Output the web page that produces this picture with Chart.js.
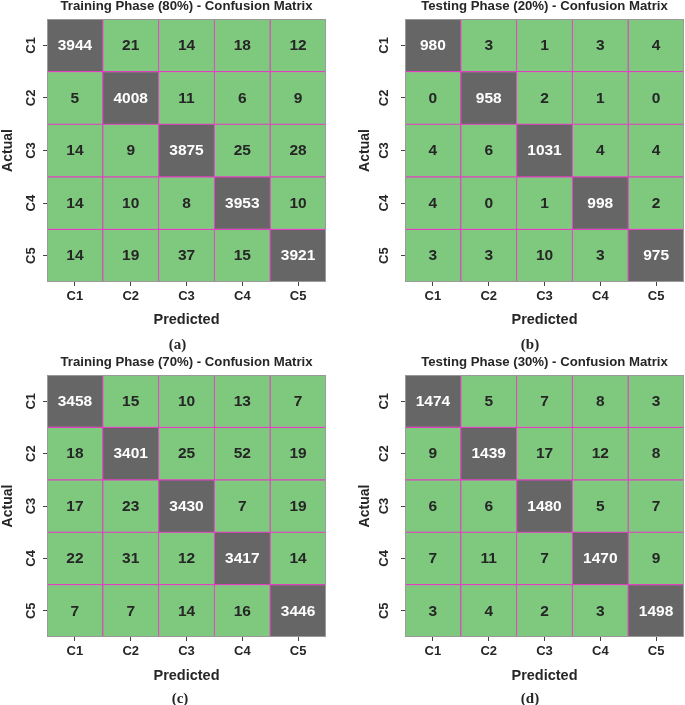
<!DOCTYPE html>
<html>
<head>
<meta charset="utf-8">
<script src="https://cdn.jsdelivr.net/npm/chart.js@4.4.0/dist/chart.umd.min.js"></script>
<style>
  html, body { margin:0; padding:0; background:#fff; width:685px; height:705px; overflow:hidden; position:relative; }
  .p { position:absolute; width:342px; height:356px; }
  .cap { position:absolute; width:60px; margin-left:-30px; text-align:center;
         font: bold 15px 'Liberation Serif', 'Times New Roman', serif; color:#262626; line-height:18px; }
</style>
</head>
<body>
<div class="p" style="left:0;top:-4px"><canvas id="ca"></canvas></div>
<div class="p" style="left:343px;top:-4px"><canvas id="cb"></canvas></div>
<div class="p" style="left:0;top:352px"><canvas id="cc"></canvas></div>
<div class="p" style="left:343px;top:352px"><canvas id="cd"></canvas></div>
<div class="cap" id="capa" style="left:177.5px;top:335px"></div>
<div class="cap" id="capb" style="left:530px;top:335px"></div>
<div class="cap" id="capc" style="left:180px;top:689px"></div>
<div class="cap" id="capd" style="left:530px;top:689px"></div>
<script>
const classes = ['C1', 'C2', 'C3', 'C4', 'C5'];

const train80 = [
  [3944, 21, 14, 18, 12],
  [5, 4008, 11, 6, 9],
  [14, 9, 3875, 25, 28],
  [14, 10, 8, 3953, 10],
  [14, 19, 37, 15, 3921]
];
const test20 = [
  [980, 3, 1, 3, 4],
  [0, 958, 2, 1, 0],
  [4, 6, 1031, 4, 4],
  [4, 0, 1, 998, 2],
  [3, 3, 10, 3, 975]
];
const train70 = [
  [3458, 15, 10, 13, 7],
  [18, 3401, 25, 52, 19],
  [17, 23, 3430, 7, 19],
  [22, 31, 12, 3417, 14],
  [7, 7, 14, 16, 3446]
];
const test30 = [
  [1474, 5, 7, 8, 3],
  [9, 1439, 17, 12, 8],
  [6, 6, 1480, 5, 7],
  [7, 11, 7, 1470, 9],
  [3, 4, 2, 3, 1498]
];

const titles = [
  'Training Phase (80%) - Confusion Matrix',
  'Testing Phase (20%) - Confusion Matrix',
  'Training Phase (70%) - Confusion Matrix',
  'Testing Phase (30%) - Confusion Matrix'
];
const captions = ['(a)', '(b)', '(c)', '(d)'];

['capa', 'capb', 'capc', 'capd'].forEach((id, k) => {
  document.getElementById(id).textContent = captions[k];
});

const SANS = "'Liberation Sans', Arial, sans-serif";
const TXT = '#262626';
const GREEN = '#7fc97f';
const GRAY = '#666666';
const LINE = '#e040c0';

function cellColor(v, max) { return v > max / 2 ? GRAY : GREEN; }
function textColor(v, max) { return v > max / 2 ? '#ffffff' : TXT; }

const cellLabels = {
  id: 'cellLabels',
  afterDatasetsDraw(chart) {
    const ctx = chart.ctx;
    const m = chart.options.plugins.cellLabels.matrix;
    const max = Math.max(...m.flat());
    ctx.save();
    ctx.font = "bold 15.5px " + SANS;
    ctx.textAlign = 'center';
    ctx.textBaseline = 'middle';
    chart.data.datasets.forEach((ds, i) => {
      const meta = chart.getDatasetMeta(i);
      meta.data.forEach((el, j) => {
        const c = el.getCenterPoint();
        const v = m[i][j];
        ctx.fillStyle = textColor(v, max);
        ctx.fillText(String(v), c.x, c.y + 0.5);
      });
    });
    const a = chart.chartArea;
    ctx.strokeStyle = '#9a9a9a';
    ctx.lineWidth = 1;
    ctx.strokeRect(a.left + 0.5, a.top + 0.5, a.right - a.left - 1, a.bottom - a.top - 1);
    ctx.restore();
  }
};

function makeChart(id, matrix, k, side, bottomRow) {
  const max = Math.max(...matrix.flat());
  const datasets = matrix.map((row, i) => ({
    label: classes[i],
    data: row.map((v, j) => ({ x: classes[j], y: [i, i + 1] })),
    backgroundColor: row.map(v => cellColor(v, max)),
    borderColor: LINE,
    borderWidth: 0.9,
    borderSkipped: false,
    grouped: false,
    barPercentage: 1,
    categoryPercentage: 1
  }));
  const left = side === 'L';
  new Chart(document.getElementById(id), {
    type: 'bar',
    data: { labels: classes, datasets },
    plugins: [cellLabels],
    options: {
      responsive: true,
      maintainAspectRatio: false,
      animation: false,
      layout: { padding: { left: 0, right: left ? 16 : 1, top: 0, bottom: 0 } },
      plugins: {
        legend: { display: false },
        tooltip: { enabled: false },
        title: {
          display: true, text: titles[k], color: TXT, fullSize: false,
          font: { family: SANS, size: 13.2, weight: 'bold' },
          padding: { top: 2.1, bottom: 5.1 }
        },
        cellLabels: { matrix }
      },
      scales: {
        x: {
          type: 'category',
          offset: true,
          grid: { offset: false, drawOnChartArea: false, drawTicks: true, tickLength: 4, color: '#444' },
          border: { display: false },
          ticks: { color: TXT, padding: 3, font: { family: SANS, size: 13, weight: 'bold' } },
          title: {
            display: true, text: 'Predicted', color: TXT,
            font: { family: SANS, size: 14.5, weight: 'bold' },
            padding: { top: 0, bottom: 23.8 }
          },
          afterFit(s) { s.height = bottomRow ? 71 : 70; }
        },
        y: {
          type: 'linear',
          min: 0, max: 5, reverse: true,
          afterBuildTicks(s) { s.ticks = classes.map((c, i) => ({ value: i + 0.5 })); },
          grid: { drawOnChartArea: false, drawTicks: true, tickLength: 4, color: '#444' },
          border: { display: false },
          ticks: {
            color: TXT, padding: left ? 3.7 : 8.7, minRotation: 90, maxRotation: 90,
            crossAlign: 'center',
            font: { family: SANS, size: 13, weight: 'bold' },
            callback: (v) => classes[Math.floor(v)]
          },
          title: {
            display: true, text: 'Actual', color: TXT,
            font: { family: SANS, size: 14, weight: 'bold' },
            padding: { top: left ? 0 : 13.6, bottom: 0 }
          },
          afterFit(s) { s.width = left ? 47 : 62; }
        }
      }
    }
  });
}

makeChart('ca', train80, 0, 'L', false);
makeChart('cb', test20, 1, 'R', false);
makeChart('cc', train70, 2, 'L', true);
makeChart('cd', test30, 3, 'R', true);
</script>
</body>
</html>
